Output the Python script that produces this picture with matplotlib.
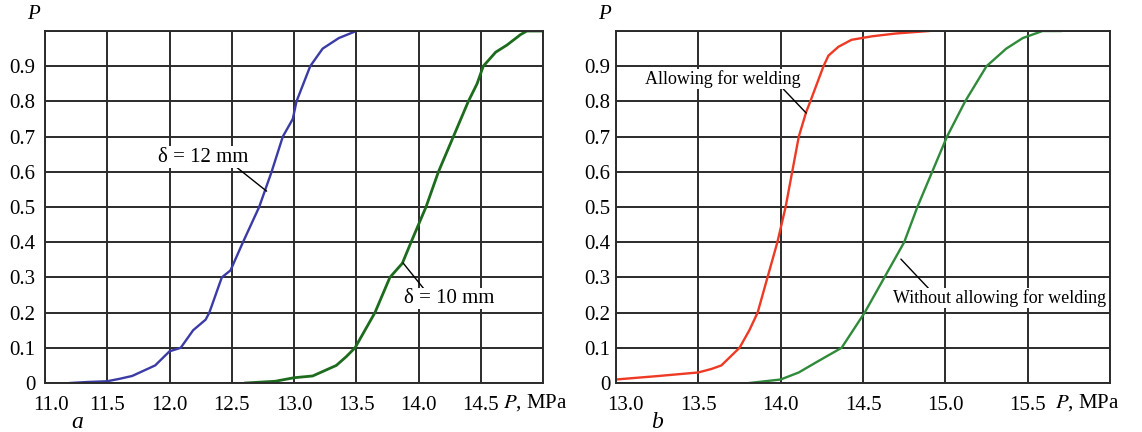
import numpy as np
import matplotlib
matplotlib.use("Agg")
import matplotlib.pyplot as plt
from matplotlib.transforms import blended_transform_factory, ScaledTranslation

plt.rcParams['font.family'] = ['Liberation Serif', 'DejaVu Serif']
plt.rcParams['mathtext.fontset'] = 'stix'

# (a) failure pressure distribution for two wall thicknesses
p12 = [11.2, 11.35, 11.5, 11.6, 11.7, 11.885, 12.0, 12.09, 12.19, 12.29, 12.32,
       12.42, 12.49, 12.59, 12.72, 12.77, 12.82, 12.91, 12.99, 13.02, 13.13,
       13.23, 13.36, 13.5]
f12 = [0.0, 0.003, 0.005, 0.012, 0.02, 0.05, 0.09, 0.10, 0.15, 0.18, 0.20,
       0.30, 0.32, 0.40, 0.50, 0.55, 0.60, 0.70, 0.75, 0.80, 0.90,
       0.95, 0.98, 1.0]

p10 = [12.61, 12.85, 13.0, 13.15, 13.34, 13.42, 13.49, 13.57, 13.65, 13.77, 13.87,
       13.94, 14.06, 14.16, 14.28, 14.40, 14.47, 14.52, 14.62, 14.71,
       14.82, 14.87, 15.0]
f10 = [0.0, 0.005, 0.015, 0.02, 0.05, 0.075, 0.10, 0.15, 0.20, 0.30, 0.34,
       0.40, 0.50, 0.60, 0.70, 0.80, 0.85, 0.90, 0.94, 0.96,
       0.99, 1.0, 1.0]

# (b) with and without the weld seam taken into account
p_weld = [13.0, 13.26, 13.5, 13.58, 13.64, 13.75, 13.81, 13.86, 13.92, 13.98,
          14.03, 14.07, 14.11, 14.155, 14.18, 14.22, 14.26, 14.29, 14.35,
          14.43, 14.555, 14.7, 14.9]
f_weld = [0.01, 0.02, 0.03, 0.04, 0.05, 0.10, 0.15, 0.20, 0.30, 0.40,
          0.50, 0.60, 0.70, 0.77, 0.80, 0.85, 0.90, 0.93, 0.955,
          0.975, 0.985, 0.993, 1.0]

p_noweld = [13.81, 14.0, 14.11, 14.22, 14.37, 14.44, 14.51, 14.63, 14.69, 14.75,
            14.83, 14.92, 15.01, 15.12, 15.25, 15.37, 15.47, 15.59, 15.7]
f_noweld = [0.0, 0.01, 0.03, 0.06, 0.10, 0.15, 0.20, 0.30, 0.35, 0.40,
            0.50, 0.60, 0.70, 0.80, 0.90, 0.95, 0.98, 1.0, 1.0]

y_ticks = [0, 0.1, 0.2, 0.3, 0.4, 0.5, 0.6, 0.7, 0.8, 0.9]
y_labels = ['0', '0.1', '0.2', '0.3', '0.4', '0.5', '0.6', '0.7', '0.8', '0.9']

GRID = '#2b2b2b'
FS = 15


def setup_axes(ax, xmin, xmax, ypad, first_shift):
    ax.set_xlim(xmin, xmax)
    ax.set_ylim(0, 1)
    xt = np.arange(xmin, xmax + 0.01, 0.5)
    ax.set_xticks(xt)
    ax.set_xticklabels([f'{v:.1f}' for v in xt[:-1]] + [''])
    ax.set_yticks(y_ticks + [1.0])
    ax.set_yticklabels(y_labels + [''])
    ax.tick_params(length=0, labelsize=FS)
    ax.tick_params(axis='x', pad=9)
    ax.tick_params(axis='y', pad=ypad)
    ax.grid(True, color=GRID, lw=1.4)
    for s in ax.spines.values():
        s.set_color(GRID)
        s.set_linewidth(1.4)
    ax.set_axisbelow(True)
    ax.text(-0.01, 1.02, 'P', transform=ax.transAxes, fontsize=FS,
            style='italic', ha='right', va='bottom')
    # first x label sits a little to the right of the axis corner
    first = ax.get_xticklabels()[0]
    first.set_transform(first.get_transform() +
                        ScaledTranslation(first_shift / 100, 0, ax.figure.dpi_scale_trans))


def leader(ax, text, xy, xytext, relpos, fs):
    ax.annotate(text, xy=xy, xytext=xytext, fontsize=fs, ha='center', va='center',
                bbox=dict(boxstyle='square,pad=0.05', fc='white', ec='none'),
                arrowprops=dict(arrowstyle='-', color='black', lw=1.0,
                                relpos=relpos, shrinkA=0, shrinkB=0))


fig = plt.figure(figsize=(11.42, 4.32), dpi=100)
ax1 = fig.add_axes([0.0394, 0.1134, 0.4361, 0.8148])
ax2 = fig.add_axes([0.5394, 0.1134, 0.4326, 0.8148])

setup_axes(ax1, 11.0, 15.0, 7, 6)
setup_axes(ax2, 13.0, 16.0, 4, 9)

ax1.plot(p12, f12, color='#3b3ba6', lw=1.7)
ax1.plot(p10, f10, color='#1d6b1d', lw=2.0)
ax2.plot(p_weld, f_weld, color='#ee3a24', lw=1.7)
ax2.plot(p_noweld, f_noweld, color='#2f8a3a', lw=1.7)

leader(ax1, 'δ = 12 mm', (12.78, 0.545), (12.27, 0.642), (0.86, 0.0), FS)
leader(ax1, 'δ = 10 mm', (13.876, 0.341), (14.25, 0.239), (0.22, 1.0), FS)
leader(ax2, 'Allowing for welding', (14.155, 0.767), (13.65, 0.864), (0.88, 0.0), 13)
leader(ax2, 'Without allowing for welding', (14.73, 0.352), (15.33, 0.241),
       (0.17, 1.0), 13)

for ax, xlab, xletter, letter in [(ax1, 14.94, 11.26, 'a'), (ax2, 15.86, 13.25, 'b')]:
    tr = blended_transform_factory(ax.transData, ax.transAxes)
    ax.text(xlab, -0.055, r'$P$, MPa', transform=tr, fontsize=FS, ha='center', va='center')
    ax.text(xletter, -0.112, letter, transform=tr, fontsize=17, style='italic',
            ha='center', va='center')

fig.savefig('out.png', dpi=100)
